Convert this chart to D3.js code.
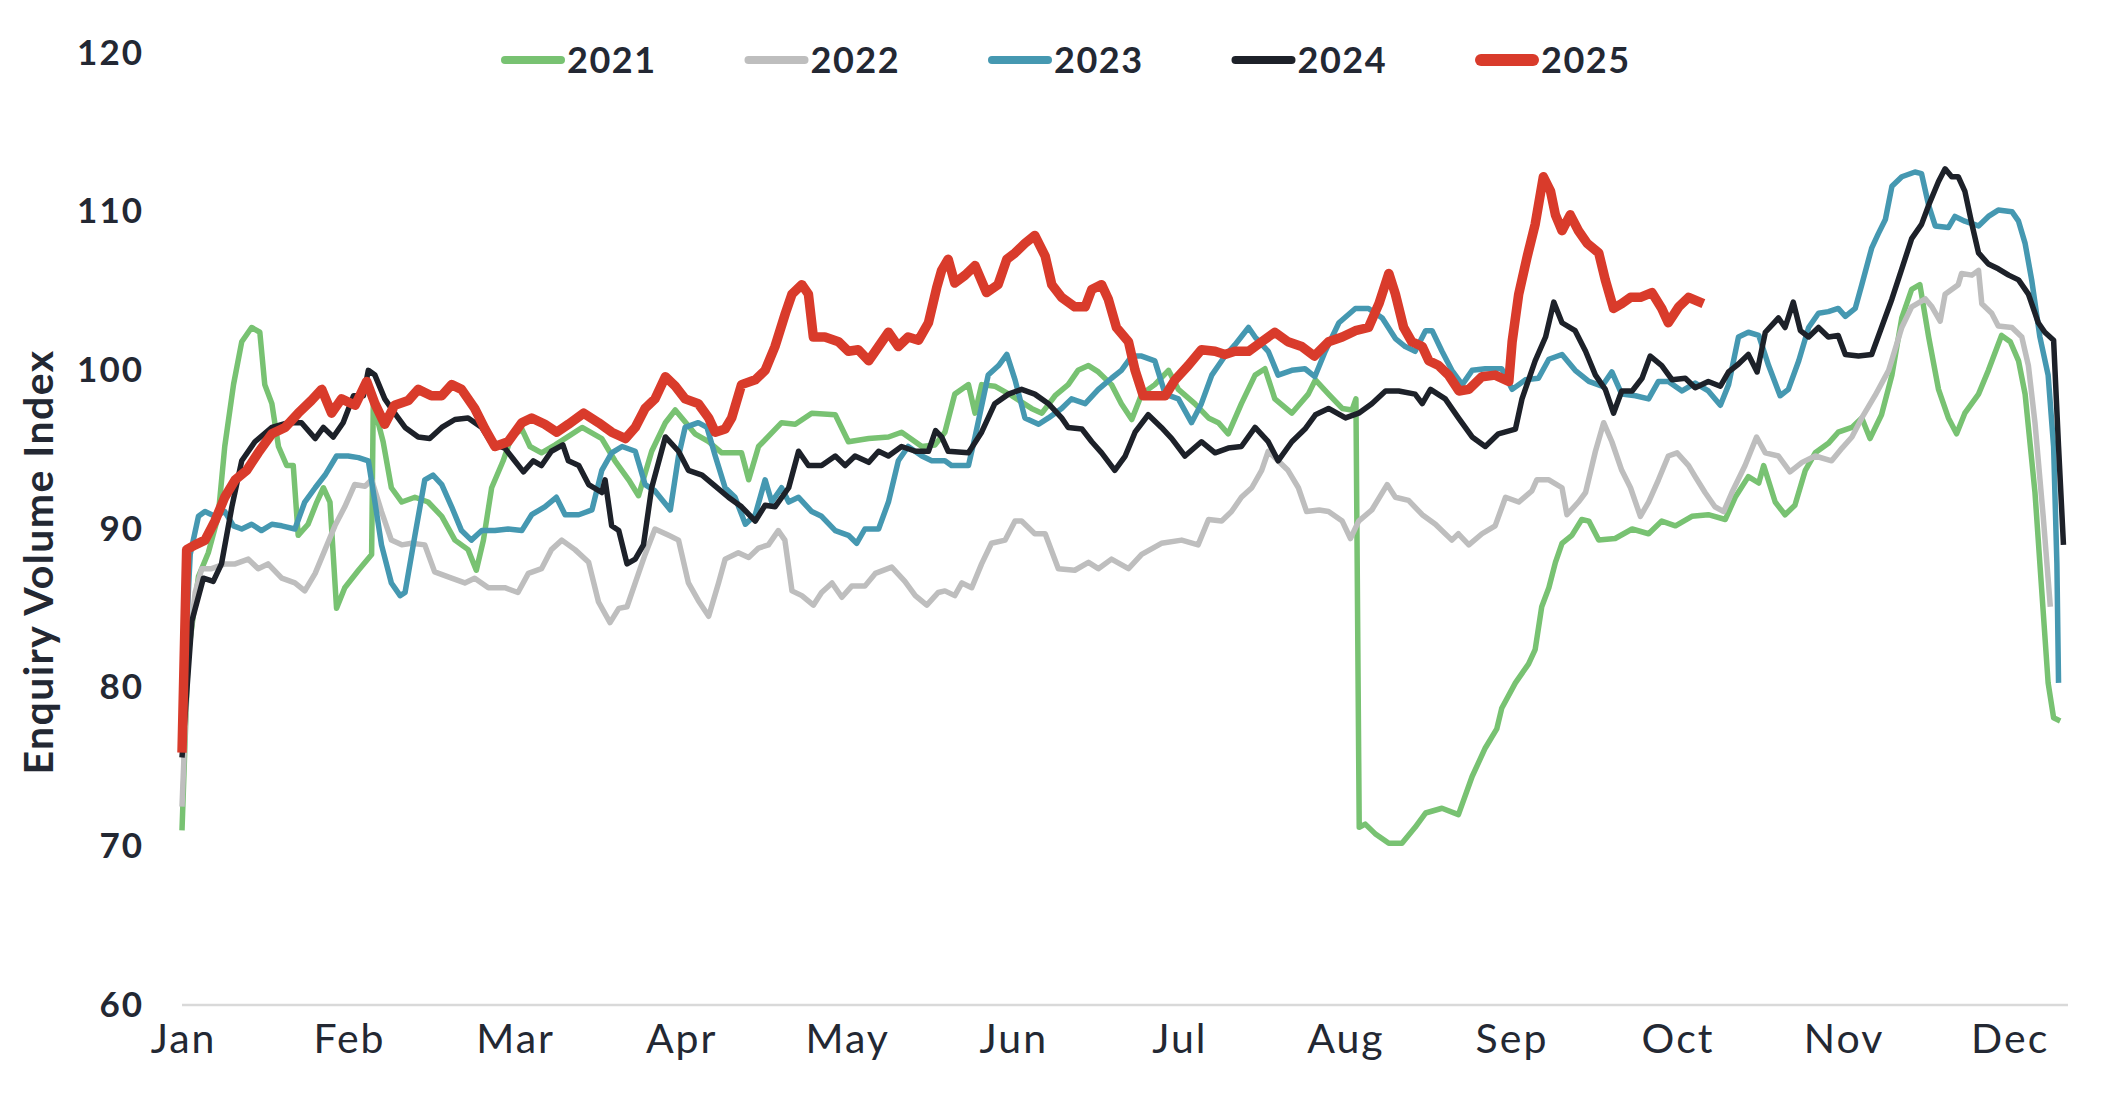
<!DOCTYPE html>
<html>
<head>
<meta charset="utf-8">
<script src="https://cdn.jsdelivr.net/npm/d3@7"></script>
<style>
  html, body { margin: 0; padding: 0; background: #ffffff; }
  svg { display: block; }
  text { font-family: "Lato", "Open Sans", sans-serif; fill: #232833; }
</style>
</head>
<body>
<svg id="chart" width="2105" height="1097"></svg>
<script>
// ---------------- DATA ----------------
const monthLabels = ["Jan","Feb","Mar","Apr","May","Jun","Jul","Aug","Sep","Oct","Nov","Dec"];
const monthStartDays = [0, 30.3, 60.6, 90.9, 121.2, 151.5, 181.8, 212.1, 242.4, 272.7, 303, 333.3];
const yTicks = [60, 70, 80, 90, 100, 110, 120];
const years = ["2021", "2022", "2023", "2024", "2025"];
const yAxisTitle = "Enquiry Volume Index";

// [day of year, index value]
const s2021 = [[0,71],[1.1,82],[3,87],[4.8,88.5],[6.6,90.8],[7.8,95.2],[9.4,99.1],[10.9,101.8],[12.7,102.7],[14.2,102.4],[15.1,99.1],[16.4,97.9],[17.6,95.2],[19.1,94],[20.3,94],[21.2,89.6],[23,90.3],[24.6,91.7],[25.8,92.6],[27,91.7],[28.2,85],[29.7,86.3],[32.2,87.4],[34.6,88.4],[34.9,97.9],[36.7,95.5],[38.2,92.6],[40.1,91.7],[42.5,92],[44.9,91.7],[47.4,90.8],[49.8,89.3],[52.2,88.7],[53.7,87.4],[55,89.3],[56.5,92.6],[58.6,94.3],[60.1,95.8],[62,96.3],[63.5,95.2],[65.6,94.8],[68.1,95.3],[73,96.4],[76.6,95.7],[79,94.3],[81.5,93.1],[83.3,92.1],[85.7,94.9],[88.2,96.7],[90,97.5],[93.6,96],[96.1,95.5],[98.5,94.8],[102.1,94.8],[103.4,93.1],[105.2,95.2],[109.4,96.7],[111.9,96.6],[114.9,97.3],[119.2,97.2],[121.6,95.5],[125.3,95.7],[128.9,95.8],[131.3,96.1],[135,95.2],[137.4,95.3],[139.2,96.1],[141,98.5],[143.5,99.1],[144.7,97.3],[145.9,99.1],[148.3,99],[151.4,98.4],[155,97.6],[156.9,97.3],[159.3,98.4],[161.7,99.1],[163.5,100],[165.4,100.3],[167.2,99.9],[169.6,99.1],[171.4,97.9],[173.3,96.9],[175.1,98.5],[177.5,99.1],[180,100],[181.8,98.8],[184.8,97.9],[187.3,97],[189.1,96.7],[190.9,96],[193.3,97.9],[195.8,99.7],[197.6,100.1],[199.4,98.2],[202.5,97.3],[205.5,98.5],[206.8,99.4],[209.2,98.5],[211.7,97.6],[213.5,97.5],[214.2,98.2],[214.8,71.2],[215.9,71.4],[217.7,70.8],[220.2,70.2],[222.6,70.2],[225,71.2],[226.9,72.1],[229.9,72.4],[232.9,72],[235.4,74.4],[237.8,76.2],[239.9,77.4],[240.8,78.7],[243.3,80.3],[245.7,81.5],[246.9,82.4],[248.1,85.1],[249.4,86.3],[250.6,87.9],[251.8,89.1],[253.6,89.6],[255.4,90.6],[256.7,90.5],[258.5,89.3],[261.5,89.4],[264.6,90],[267.6,89.7],[270,90.5],[272.5,90.2],[275.5,90.8],[278.5,90.9],[281.6,90.6],[283.4,92],[285.8,93.3],[287.7,92.9],[288.6,94],[290.7,91.7],[292.5,90.9],[294.3,91.5],[296.2,93.7],[298,94.8],[300.4,95.4],[302.2,96.1],[304.7,96.4],[306.5,97],[308,95.7],[310.1,97.2],[312,99.7],[313.8,103.3],[315.6,105.1],[317.1,105.4],[318.7,102.1],[320.5,98.8],[322.3,97],[323.8,96],[325.3,97.3],[327.8,98.5],[329.6,100],[332,102.2],[333.6,101.8],[335.1,100.6],[336.3,98.5],[338.1,92.3],[339.3,86.3],[340.5,80.3],[341.5,78.1],[342.7,77.9]];

const s2022 = [[0,72.5],[1.1,82],[2.4,86],[3.6,87.5],[5.4,87.5],[7.8,87.8],[9.7,87.8],[12.1,88.1],[13.9,87.5],[15.7,87.8],[18.2,86.9],[20.6,86.6],[22.4,86.1],[24.3,87.2],[26.1,88.7],[27.9,90.2],[29.7,91.4],[31.5,92.8],[33.4,92.7],[34.6,93.1],[36.4,91.1],[38.2,89.3],[40.1,89],[41.9,89.1],[44.3,89],[46.1,87.3],[49.2,86.9],[51.6,86.6],[53.4,86.9],[55.9,86.3],[58.9,86.3],[61.3,86],[63.2,87.2],[65.6,87.5],[67.4,88.7],[69.3,89.3],[71.7,88.7],[74.2,87.9],[76,85.4],[78.1,84.1],[79.7,85],[81.2,85.1],[82.7,86.6],[84.5,88.4],[86.3,90],[88.8,89.6],[90.6,89.3],[92.4,86.6],[94.2,85.5],[96.1,84.5],[97.9,86.6],[99.1,88.1],[101.5,88.5],[103.4,88.2],[105.2,88.8],[107,89],[108.8,89.9],[110,89.3],[111.3,86.1],[113.1,85.8],[115.2,85.2],[116.7,86],[118.6,86.6],[120.4,85.7],[122.2,86.4],[124.6,86.4],[126.5,87.2],[129.5,87.6],[131.9,86.7],[133.8,85.8],[135.9,85.2],[138,86],[139.2,86.1],[141,85.8],[142.3,86.6],[144.1,86.3],[145.9,87.8],[147.7,89.1],[150.2,89.3],[152,90.5],[153.2,90.5],[155.6,89.7],[157.5,89.7],[159.9,87.5],[162.9,87.4],[165.4,87.9],[167.2,87.5],[169.6,88.1],[172.7,87.5],[175.1,88.4],[178.7,89.1],[182.4,89.3],[185.4,89],[187.3,90.6],[189.7,90.5],[191.5,91.1],[193.3,92],[195.2,92.6],[197,93.7],[198.2,94.9],[200,94.3],[201.8,93.7],[203.7,92.6],[205.2,91.1],[207.5,91.2],[209.2,91.1],[211.7,90.5],[213.2,89.4],[214.7,90.5],[217.1,91.2],[219.9,92.8],[221.4,92],[223.8,91.8],[226.3,90.9],[228.7,90.3],[231.7,89.3],[232.9,89.7],[234.8,89],[237.2,89.7],[239.6,90.2],[241.5,92],[243.9,91.7],[246.3,92.4],[247.2,93.1],[249.4,93.1],[251.8,92.6],[252.7,90.9],[254.8,91.7],[256.1,92.3],[257.9,94.9],[259.4,96.7],[260.9,95.5],[262.7,93.7],[264.3,92.6],[266.1,90.8],[267.6,91.7],[269.4,93.1],[271.2,94.6],[272.8,94.8],[274.9,94],[276.1,93.3],[277.9,92.3],[279.7,91.4],[281.3,91.1],[282.8,92.3],[285.2,94],[287.3,95.8],[288.9,94.8],[291.3,94.6],[293.4,93.6],[295.6,94.2],[298,94.6],[301,94.3],[302.9,95.1],[304.7,95.8],[306.5,97],[308.9,98.4],[311.4,100],[313.8,102.7],[315.6,104],[318.1,104.5],[319.3,104],[320.8,103.1],[321.7,104.8],[324.1,105.4],[324.7,106.1],[326.6,106],[327.8,106.3],[328.4,104.2],[330.2,103.6],[331.4,102.8],[333.9,102.7],[335.7,102.1],[336.9,100.3],[338.1,96.7],[339.6,90.8],[340.9,85.1]];

const s2023 = [[0,78],[1.5,88.4],[3,90.8],[4.2,91.1],[6,90.8],[7.8,91.1],[9.4,90.2],[10.9,90],[12.7,90.3],[14.5,89.9],[16.4,90.3],[18.2,90.2],[20.6,90],[22.4,91.7],[24.3,92.6],[26.1,93.4],[28.2,94.6],[30.3,94.6],[32.2,94.5],[34,94.3],[35.2,91.7],[36.4,89],[38.2,86.6],[39.8,85.8],[40.7,86],[42.5,89.6],[44.3,93.1],[45.8,93.4],[47.4,92.8],[49.2,91.4],[51,89.9],[52.8,89.3],[54.7,89.9],[57.1,89.9],[59.5,90],[62,89.9],[63.8,90.9],[66.2,91.4],[68.3,92],[69.9,90.9],[72.4,90.9],[74.8,91.2],[76.6,93.7],[78.4,94.8],[80.3,95.2],[82.7,94.9],[84.5,92.8],[86.3,92.4],[89.1,91.2],[90.6,94.6],[91.8,96.4],[94.2,96.7],[95.8,96.4],[97.3,94.6],[99.1,92.6],[100.9,92],[102.8,90.3],[104.6,90.9],[106.4,93.1],[107.6,91.7],[109.4,92.6],[110.7,91.7],[112.5,92],[114.9,91.1],[116.7,90.8],[119.2,89.9],[121.6,89.6],[123.1,89.1],[124.6,90],[127.1,90],[128.9,91.7],[130.7,94.3],[132.5,95.2],[135,94.6],[136.8,94.3],[139.2,94.3],[140.4,94],[143.5,94],[144.7,95.8],[147.1,99.7],[149,100.3],[150.5,101],[152,99.4],[153.8,97],[156.3,96.6],[158.1,97],[160.5,97.6],[162.3,98.2],[164.8,97.9],[167.2,98.8],[169.6,99.5],[171.4,100],[173.3,100.9],[175.1,100.9],[177.5,100.6],[179.4,98.5],[181.8,98.2],[184.2,96.7],[186,97.9],[187.9,99.7],[190.3,100.9],[192.1,101.6],[194.6,102.7],[195.8,102.1],[198.2,101.2],[200,99.7],[202.5,100],[204.9,100.1],[206.7,99.6],[208.6,101.2],[211.1,103],[214.1,103.9],[216.5,103.9],[219,103.3],[221.4,102],[223.2,101.5],[225,101.2],[226.9,102.5],[228.1,102.5],[229.9,101.2],[231.7,100],[233.6,99.1],[235.4,100],[237.8,100.1],[240.8,100.1],[242.7,98.8],[245.1,99.4],[247.5,99.5],[249.4,100.7],[251.8,101],[254.2,100],[256.7,99.3],[259.1,99],[260.9,99.9],[262.7,98.5],[265.2,98.4],[267.6,98.2],[269.4,99.3],[271.2,99.3],[273.7,98.7],[276.1,99.2],[278.5,98.7],[280.7,97.8],[282.2,99.1],[284,102.1],[285.8,102.4],[287.7,102.2],[289.5,100.3],[291.6,98.4],[293.1,98.8],[295,100.6],[296.8,102.7],[298.6,103.6],[300.4,103.7],[302.2,103.9],[303.5,103.4],[305.3,103.9],[306.5,105.4],[308.3,107.7],[309.5,108.6],[310.8,109.5],[312,111.6],[313.8,112.2],[316.2,112.5],[317.4,112.4],[318.7,110.4],[319.9,109.1],[322.3,109],[323.5,109.7],[325.3,109.4],[327.8,109.1],[329.6,109.7],[331.4,110.1],[333.9,110],[335.1,109.4],[336.3,108],[337.5,105.7],[339,102.1],[340.5,99.7],[341.5,95.2],[342.1,87.8],[342.4,80.3]];

const s2024 = [[0,75.6],[1.8,84.2],[3.9,86.9],[5.7,86.7],[7.2,87.8],[9.1,91.4],[10.9,94.3],[13.3,95.5],[16.4,96.4],[19.4,96.7],[21.8,96.7],[24.3,95.7],[25.8,96.4],[27.6,95.8],[29.4,96.7],[31.3,98.4],[33.1,98.4],[34,100],[35.2,99.7],[37,98.2],[38.8,97.3],[40.7,96.4],[43.1,95.8],[45.2,95.7],[47.4,96.4],[49.8,96.9],[52.2,97],[54.7,96.4],[56.5,95.4],[58.9,95.1],[60.7,94.3],[62.3,93.6],[64.1,94.3],[65.6,94],[67.4,94.9],[69.5,95.3],[70.5,94.3],[72.4,94],[74.2,92.8],[76.6,92.3],[77.2,93.1],[78.4,90.2],[79.7,89.9],[81.2,87.8],[82.7,88.1],[84.2,89],[85.7,92.6],[88.2,95.8],[90.6,94.9],[92.4,93.7],[94.9,93.4],[97.3,92.7],[99.7,92],[102.1,91.4],[104.6,90.5],[106.4,91.5],[108.2,91.4],[110.7,92.6],[112.5,94.9],[114.3,94],[116.7,94],[119.2,94.6],[121,94],[122.8,94.6],[125.3,94.2],[127.1,94.9],[128.9,94.6],[131.3,95.2],[133.8,94.9],[136.2,94.9],[137.5,96.2],[138.6,95.8],[139.8,94.9],[143.5,94.8],[145.9,96.1],[148.3,97.9],[150.8,98.5],[153.2,98.8],[155.6,98.5],[158.1,97.9],[160.5,97],[161.7,96.4],[164.2,96.3],[166,95.5],[167.8,94.8],[170.2,93.7],[172.1,94.6],[173.9,96.1],[176.3,97.2],[178.7,96.4],[180.6,95.7],[183,94.6],[186,95.5],[188.5,94.8],[190.9,95.1],[193.3,95.2],[195.8,96.4],[198.2,95.5],[200,94.3],[202.5,95.5],[204.9,96.3],[206.8,97.2],[209.2,97.6],[212.3,97],[214.7,97.3],[217.1,97.9],[219.6,98.7],[222,98.7],[225,98.5],[226.3,97.9],[227.8,98.8],[230.5,98.2],[232.9,97],[235.4,95.8],[237.8,95.2],[240.2,96],[243.3,96.3],[244.5,98.2],[246.9,100.6],[248.8,102.1],[250.3,104.3],[251.8,103],[254.2,102.5],[256.1,101.2],[257.9,99.7],[259.7,98.8],[261.2,97.3],[262.7,98.7],[264.6,98.7],[266.4,99.5],[267.9,100.9],[270,100.3],[271.9,99.4],[274.3,99.5],[276.1,98.9],[278.5,99.3],[280.7,99],[282.2,99.9],[284,100.4],[285.8,101],[287.4,99.9],[288.9,102.4],[291.3,103.3],[292.5,102.7],[294,104.3],[295.3,102.5],[296.8,102.1],[298.6,102.7],[300.4,102.1],[302.2,102.2],[303.5,101],[305.9,100.9],[308.3,101],[310.1,102.7],[312,104.5],[313.8,106.4],[315.6,108.3],[317.4,109.2],[318.7,110.4],[320.5,111.9],[321.7,112.7],[322.9,112.2],[324.1,112.2],[325.3,111.3],[326.6,109.2],[327.8,107.4],[329.6,106.7],[331.4,106.4],[333.3,106],[335.1,105.7],[336.9,104.8],[338.7,103],[339.9,102.4],[341.5,101.9],[342.4,95.2],[343.3,89]];

const s2025 = [[0,75.9],[0.85,88.7],[2.4,89],[4.2,89.3],[6,90.5],[7.8,92],[9.7,93.1],[11.8,93.7],[13.9,94.8],[16.4,96],[18.8,96.4],[21.2,97.3],[23.6,98.1],[25.5,98.8],[27.3,97.3],[29.1,98.2],[31.6,97.8],[33.7,99.3],[35.2,97.9],[37,96.6],[38.8,97.8],[41.3,98.1],[43.1,98.8],[45.5,98.4],[47.4,98.4],[49.2,99.1],[51,98.8],[53.4,97.6],[55.3,96.3],[57.1,95.2],[59.5,95.5],[62,96.7],[63.8,97],[66.2,96.6],[68.4,96.1],[70.5,96.6],[73.3,97.3],[76,96.7],[78.4,96.1],[80.9,95.7],[82.7,96.4],[84.5,97.6],[86.3,98.2],[88.2,99.6],[90,99],[91.8,98.2],[94.2,97.9],[96.1,97],[97.3,96.1],[99.1,96.3],[100.3,97],[102.1,99.1],[104.6,99.4],[106.4,100],[108.2,101.5],[110.1,103.6],[111.3,104.8],[113.1,105.4],[114.3,104.8],[115.2,102.1],[117.3,102.1],[119.8,101.8],[121.6,101.2],[123.4,101.3],[125.3,100.6],[127.1,101.5],[128.9,102.4],[130.7,101.5],[132.5,102.1],[134.4,101.9],[136.2,103],[137.7,105.2],[138.6,106.3],[139.8,107],[141,105.5],[142.9,106],[144.7,106.6],[146.8,104.9],[148.9,105.4],[150.5,107],[152,107.4],[153.8,108],[155.6,108.5],[157.5,107.2],[158.7,105.4],[160.5,104.6],[162.9,104],[164.8,104],[166,105.1],[167.8,105.4],[169,104.5],[170.5,102.7],[172.7,101.8],[173.9,100],[175.4,98.4],[177.5,98.4],[179.4,98.4],[181.2,99.4],[183.6,100.3],[186,101.3],[188.5,101.2],[190.3,101],[192.1,101.2],[194.6,101.2],[197,101.8],[199.4,102.4],[201.8,101.8],[204.3,101.5],[206.6,100.9],[209.2,101.8],[211.7,102.1],[214.1,102.5],[216.5,102.7],[218.4,104.2],[220.2,106.1],[221.4,104.8],[222.9,102.7],[224.4,101.8],[226.3,101.5],[227.5,100.6],[229.3,100.3],[231.1,99.7],[233,98.7],[234.8,98.8],[237.2,99.6],[239.6,99.7],[242.1,99.3],[242.7,101.8],[243.9,104.8],[245.4,107.1],[246.9,109.2],[248.4,112.2],[249.7,111.3],[250.6,109.8],[251.8,108.8],[253.3,109.8],[254.8,108.8],[256.4,108],[258.5,107.4],[259.7,105.7],[261.2,103.9],[262.7,104.2],[264.3,104.6],[266.1,104.6],[268.2,104.9],[270,103.9],[271.2,103],[273.1,104],[274.9,104.6],[277.6,104.2]];

const seriesValues = [s2021, s2022, s2023, s2024, s2025];
const colors = ["#78C272", "#BEBEBE", "#4598B1", "#1D2129", "#D93B2B"];
const strokeWidths = [5.5, 5.5, 5.5, 5.5, 9.5];

// ---------------- LAYOUT ----------------
const svg = d3.select("#chart");
svg.append("rect").attr("width", 2105).attr("height", 1097).attr("fill", "#ffffff");

const monthW = 166.7;
const x0 = 182;
const x = d3.scaleLinear().domain([0, 365]).range([x0, x0 + 12 * monthW]);
const y = d3.scaleLinear().domain([60, 120]).range([1005, 53]);

// baseline axis line
svg.append("line")
  .attr("x1", x0).attr("x2", 2068)
  .attr("y1", y(60)).attr("y2", y(60))
  .attr("stroke", "#D9D9D9").attr("stroke-width", 2.5);

// x axis labels
const xAxis = d3.axisBottom(x)
  .tickValues(monthStartDays)
  .tickFormat((d, i) => monthLabels[i])
  .tickSize(0).tickPadding(19);
const gx = svg.append("g").attr("transform", `translate(1,${y(60)})`).call(xAxis);
gx.select(".domain").remove();
gx.selectAll("text")
  .style("font-family", "Lato, sans-serif")
  .style("font-size", "41px")
  .style("font-weight", "400")
  .style("letter-spacing", "2px")
  .attr("fill", "#232833");

// y axis labels
const yAxis = d3.axisLeft(y).tickValues(yTicks).tickFormat(d3.format("d")).tickSize(0).tickPadding(6);
const gy = svg.append("g").attr("transform", `translate(150,0)`).call(yAxis);
gy.select(".domain").remove();
gy.selectAll("text")
  .style("font-family", "Lato, sans-serif")
  .style("font-size", "35px")
  .style("font-weight", "700")
  .style("letter-spacing", "2px")
  .attr("fill", "#232833");

// y axis title
svg.append("text")
  .attr("transform", "translate(53,562) rotate(-90)")
  .attr("text-anchor", "middle")
  .style("font-size", "41px")
  .style("font-weight", "700")
  .style("letter-spacing", "1.4px")
  .text(yAxisTitle);

// lines
const line = d3.line().x(d => x(d[0])).y(d => y(d[1]));
const gLines = svg.append("g");
seriesValues.forEach((vals, i) => {
  gLines.append("path")
    .datum(vals)
    .attr("d", line)
    .attr("fill", "none")
    .attr("stroke", colors[i])
    .attr("stroke-width", strokeWidths[i])
    .attr("stroke-linejoin", "round")
    .attr("stroke-linecap", "butt");
});

// legend
const legend = svg.append("g");
years.forEach((yr, i) => {
  const sx = 501 + i * 243.5;
  const w = i === 4 ? 12 : 8;
  legend.append("line")
    .attr("x1", sx + w / 2).attr("x2", sx + 64 - w / 2)
    .attr("y1", 60).attr("y2", 60)
    .attr("stroke", colors[i]).attr("stroke-width", w)
    .attr("stroke-linecap", "round");
  legend.append("text")
    .attr("x", sx + 66).attr("y", 73)
    .style("font-size", "36px")
    .style("font-weight", "700")
    .style("letter-spacing", "1.5px")
    .text(yr);
});
</script>
</body>
</html>
